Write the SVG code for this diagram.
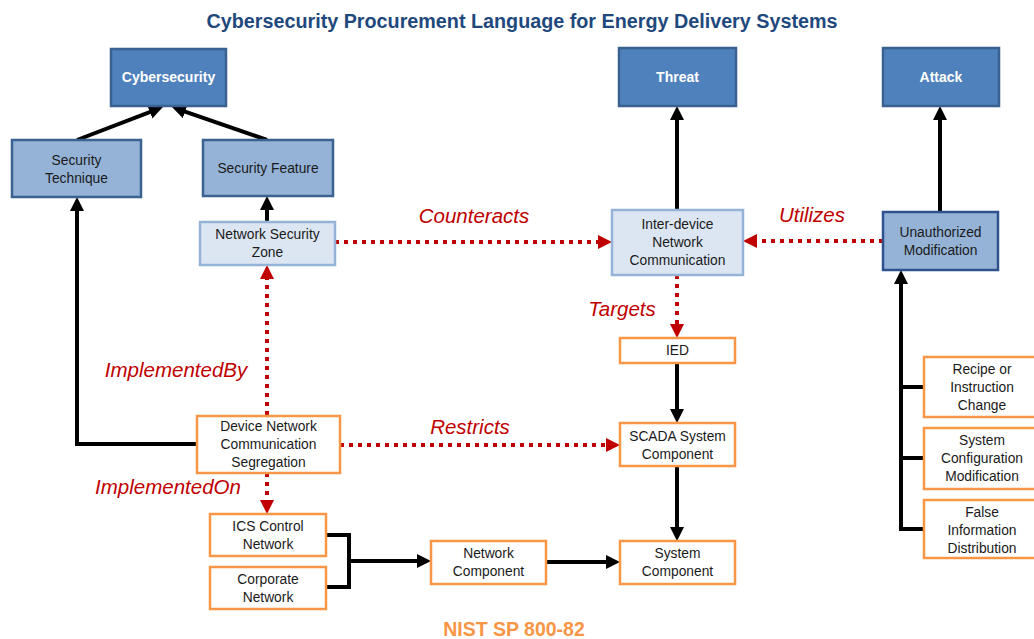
<svg xmlns="http://www.w3.org/2000/svg" width="1034" height="639" viewBox="0 0 1034 639">
<style>
.bg{fill:#ffffff}
.dark{fill:#4F81BD;stroke:#3A6291;stroke-width:2.5}
.mid{fill:#95B3D7;stroke:#3A6291;stroke-width:2.5}
.light{fill:#DCE6F2;stroke:#95B3D7;stroke-width:2.5}
.org{fill:#ffffff;stroke:#F79646;stroke-width:2.5}
text{font-family:"Liberation Sans",Arial,sans-serif}
.t{font-size:13.8px;fill:#1a1a1a;text-anchor:middle}
.tw{font-size:14px;font-weight:bold;fill:#ffffff;text-anchor:middle}
.lbl{font-size:20.5px;font-style:italic;fill:#C00000;text-anchor:middle}
.blk{fill:none;stroke:#000;stroke-width:4}
.red{fill:none;stroke:#C00000;stroke-width:4;stroke-dasharray:4 5}
</style>
<defs>
<marker id="ab" markerUnits="userSpaceOnUse" markerWidth="14" markerHeight="14" refX="4" refY="7" orient="auto"><path d="M0,0 L14,7 L0,14 z" fill="#000"/></marker>
<marker id="ar" markerUnits="userSpaceOnUse" markerWidth="14" markerHeight="14" refX="4" refY="7" orient="auto"><path d="M0,0 L14,7 L0,14 z" fill="#C00000"/></marker>
</defs>
<rect class="bg" x="0" y="0" width="1034" height="639"/>
<text x="522" y="28" text-anchor="middle" font-size="20" font-weight="bold" fill="#1F497D" textLength="631" lengthAdjust="spacingAndGlyphs">Cybersecurity Procurement Language for Energy Delivery Systems</text>

<g id="connectors">
<path class="blk" d="M77,140 L153.6,110.6" marker-end="url(#ab)"/>
<path class="blk" d="M267,140 L181.4,110.3" marker-end="url(#ab)"/>
<path class="blk" d="M267,222 V206" marker-end="url(#ab)"/>
<path class="blk" d="M197,444 H77 V207" marker-end="url(#ab)"/>
<path class="blk" d="M677,210 V116" marker-end="url(#ab)"/>
<path class="blk" d="M940,212 V116" marker-end="url(#ab)"/>
<path class="blk" d="M924,529 H901 V280" marker-end="url(#ab)"/>
<path class="blk" d="M901,387 H924 M901,458 H924"/>
<path class="blk" d="M677,363 V413" marker-end="url(#ab)"/>
<path class="blk" d="M677,466 V531" marker-end="url(#ab)"/>
<path class="blk" d="M546,562 H610" marker-end="url(#ab)"/>
<path class="blk" d="M326,535 H349 V587 H326"/>
<path class="blk" d="M349,561 H421" marker-end="url(#ab)"/>
<path class="red" d="M335,242 H602" marker-end="url(#ar)"/>
<path class="red" d="M883,241 H753" marker-end="url(#ar)"/>
<path class="red" d="M677,275 V328" marker-end="url(#ar)"/>
<path class="red" d="M340,445 H610" marker-end="url(#ar)"/>
<path class="red" d="M267,415 V275" marker-end="url(#ar)"/>
<path class="red" d="M267,473 V504" marker-end="url(#ar)"/>
<text class="lbl" x="474" y="223">Counteracts</text>
<text class="lbl" x="812" y="222">Utilizes</text>
<text class="lbl" x="622" y="316">Targets</text>
<text class="lbl" x="176" y="377">ImplementedBy</text>
<text class="lbl" x="470" y="434">Restricts</text>
<text class="lbl" x="168" y="494">ImplementedOn</text>
</g>

<g id="cybersecurity"><rect class="dark" x="111" y="49" width="115" height="57"/><text class="tw" x="168.5" y="82">Cybersecurity</text></g>
<g id="security-technique"><rect class="mid" x="12" y="140" width="129" height="57"/><text class="t" x="76.5" y="165">Security</text><text class="t" x="76.5" y="183">Technique</text></g>
<g id="security-feature"><rect class="mid" x="203" y="140" width="130" height="56"/><text class="t" x="268" y="173">Security Feature</text></g>
<g id="network-security-zone"><rect class="light" x="200" y="222" width="135" height="43"/><text class="t" x="267.5" y="239">Network Security</text><text class="t" x="267.5" y="257">Zone</text></g>
<g id="threat"><rect class="dark" x="619" y="48" width="117" height="58"/><text class="tw" x="677.5" y="82">Threat</text></g>
<g id="attack"><rect class="dark" x="883" y="48" width="116" height="58"/><text class="tw" x="941" y="82">Attack</text></g>
<g id="inter-device"><rect class="light" x="612" y="210" width="131" height="65"/><text class="t" x="677.5" y="229">Inter-device</text><text class="t" x="677.5" y="247">Network</text><text class="t" x="677.5" y="265">Communication</text></g>
<g id="unauthorized-modification"><rect class="mid" x="883" y="212" width="115" height="58" style="stroke:#2F528F"/><text class="t" x="940.5" y="237">Unauthorized</text><text class="t" x="940.5" y="255">Modification</text></g>
<g id="ied"><rect class="org" x="620" y="338" width="115" height="25"/><text class="t" x="677.5" y="355">IED</text></g>
<g id="scada"><rect class="org" x="620" y="423" width="115" height="43"/><text class="t" x="677.5" y="441">SCADA System</text><text class="t" x="677.5" y="459">Component</text></g>
<g id="system-component"><rect class="org" x="620" y="541" width="115" height="43"/><text class="t" x="677.5" y="558">System</text><text class="t" x="677.5" y="576">Component</text></g>
<g id="network-component"><rect class="org" x="431" y="541" width="115" height="43"/><text class="t" x="488.5" y="558">Network</text><text class="t" x="488.5" y="576">Component</text></g>
<g id="device-network"><rect class="org" x="197" y="416" width="143" height="57"/><text class="t" x="268.5" y="431">Device Network</text><text class="t" x="268.5" y="449">Communication</text><text class="t" x="268.5" y="467">Segregation</text></g>
<g id="ics-control-network"><rect class="org" x="210" y="514" width="116" height="42"/><text class="t" x="268" y="531">ICS Control</text><text class="t" x="268" y="549">Network</text></g>
<g id="corporate-network"><rect class="org" x="210" y="567" width="116" height="42"/><text class="t" x="268" y="584">Corporate</text><text class="t" x="268" y="602">Network</text></g>
<g id="recipe"><rect class="org" x="924" y="357" width="120" height="60"/><text class="t" x="982" y="374">Recipe or</text><text class="t" x="982" y="392">Instruction</text><text class="t" x="982" y="410">Change</text></g>
<g id="system-configuration"><rect class="org" x="924" y="428" width="120" height="61"/><text class="t" x="982" y="445">System</text><text class="t" x="982" y="463">Configuration</text><text class="t" x="982" y="481">Modification</text></g>
<g id="false-information"><rect class="org" x="924" y="500" width="120" height="58"/><text class="t" x="982" y="517">False</text><text class="t" x="982" y="535">Information</text><text class="t" x="982" y="553">Distribution</text></g>
<text x="514" y="636" text-anchor="middle" font-size="19.5" font-weight="bold" fill="#F79646">NIST SP 800-82</text>
</svg>
